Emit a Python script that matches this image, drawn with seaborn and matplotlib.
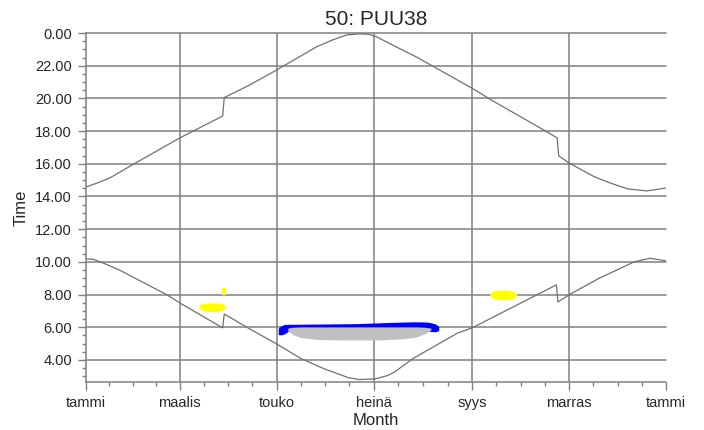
import matplotlib
matplotlib.use("Agg")
import matplotlib.pyplot as plt
import numpy as np
import pandas as pd
import seaborn as sns
from matplotlib.ticker import FixedLocator, FuncFormatter, MultipleLocator

# sunset / sunrise curves (day of year, hours)
sunset_day = [0, 7, 15, 28, 59, 86, 87, 103, 120, 133, 145, 155, 164, 172, 178, 183,
              195, 208, 241.5, 248, 254, 288, 296.5, 297.5, 304, 320, 330, 341, 353, 365]
sunset_time = [14.58, 14.82, 15.13, 15.87, 17.58, 18.92, 20.05, 20.82, 21.74, 22.47,
               23.15, 23.57, 23.88, 23.95, 23.92, 23.76, 23.16, 22.53, 20.7, 20.33,
               19.96, 18.07, 17.58, 16.48, 16.05, 15.2, 14.82, 14.46, 14.34, 14.52]

sunrise_day = [0, 4.4, 9, 14, 21, 51, 59, 86, 87, 103, 120, 135, 150, 160, 165, 172,
               182, 190, 194, 206, 234, 243, 296, 297, 305, 323, 345, 355, 365]
sunrise_time = [10.18, 10.16, 10.0, 9.8, 9.5, 7.98, 7.49, 5.96, 6.81, 5.9, 4.98, 4.1,
                3.45, 3.1, 2.92, 2.8, 2.84, 3.05, 3.25, 4.1, 5.65, 5.96, 8.59, 7.55,
                8.04, 9.0, 10.0, 10.22, 10.06]

# observation clusters (day, lower, upper)
blue_day = [121, 123, 125, 128, 131, 150, 170, 190, 205, 212, 216, 220, 222]
blue_lo = [5.55, 5.53, 5.6, 5.8, 5.9, 5.9, 5.9, 5.9, 5.9, 5.9, 5.75, 5.72, 5.8]
blue_hi = [5.95, 6.1, 6.17, 6.18, 6.18, 6.2, 6.22, 6.29, 6.33, 6.33, 6.3, 6.2, 6.05]

grey_day = [127, 130, 135, 145, 160, 185, 200, 208, 213, 217]
grey_lo = [5.8, 5.55, 5.38, 5.25, 5.22, 5.22, 5.3, 5.4, 5.6, 5.82]
grey_hi = [5.95, 6.0, 6.02, 6.02, 6.02, 6.02, 6.02, 6.02, 6.0, 5.95]

yellow1_day = [71, 72.5, 75, 79, 83, 86, 87.5]
yellow1_lo = [7.22, 7.05, 6.98, 6.96, 6.97, 7.02, 7.18]
yellow1_hi = [7.3, 7.42, 7.47, 7.49, 7.48, 7.44, 7.32]

yellow2_day = [85.6, 88.3]
yellow2_lo = [7.99, 7.99]
yellow2_hi = [8.4, 8.4]

yellow3_day = [254, 255.5, 258, 262, 266, 269.5, 271]
yellow3_lo = [7.95, 7.78, 7.7, 7.67, 7.69, 7.76, 7.92]
yellow3_hi = [8.02, 8.18, 8.25, 8.28, 8.25, 8.16, 8.02]

month_days = [0, 59, 120, 181, 243, 304, 365]
month_labels = ["tammi", "maalis", "touko", "heinä", "syys", "marras", "tammi"]
hour_ticks = [4, 6, 8, 10, 12, 14, 16, 18, 20, 22, 24]

sns.set_style("white")
plt.rcParams["font.family"] = ["Liberation Sans", "DejaVu Sans"]

grey = "#808080"
fig = plt.figure(figsize=(7.04, 4.30), dpi=100)
ax = fig.add_axes([86 / 704, 1 - 382 / 430, 580 / 704, 349 / 430])

ax.fill_between(blue_day, blue_lo, blue_hi, color="#0000ff", lw=0)
ax.fill_between(grey_day, grey_lo, grey_hi, color="#c0c0c0", lw=0)
for d, lo, hi in [(yellow1_day, yellow1_lo, yellow1_hi),
                  (yellow2_day, yellow2_lo, yellow2_hi),
                  (yellow3_day, yellow3_lo, yellow3_hi)]:
    ax.fill_between(d, lo, hi, color="#ffff00", lw=0)

sunset = pd.DataFrame({"day": sunset_day, "time": sunset_time})
sunrise = pd.DataFrame({"day": sunrise_day, "time": sunrise_time})
sns.lineplot(data=sunset, x="day", y="time", ax=ax, color="#707070", lw=0.9,
             estimator=None, sort=False)
sns.lineplot(data=sunrise, x="day", y="time", ax=ax, color="#707070", lw=0.9,
             estimator=None, sort=False)

ax.set_xlim(0, 365)
ax.set_ylim(2.65, 24)

ax.xaxis.set_major_locator(FixedLocator(month_days))
ax.set_xticklabels(month_labels)
minor_x = []
for a, b in zip(month_days[:-1], month_days[1:]):
    minor_x += list(np.linspace(a, b, 5)[1:-1])
ax.xaxis.set_minor_locator(FixedLocator(minor_x))

ax.yaxis.set_major_locator(FixedLocator(hour_ticks))
ax.yaxis.set_major_formatter(FuncFormatter(lambda v, p: f"{v % 24:.2f}"))
ax.yaxis.set_minor_locator(MultipleLocator(0.5))

ax.grid(True, which="major", color=grey, lw=1.1)
ax.get_xgridlines()[-1].set_visible(False)
ax.get_xgridlines()[0].set_visible(False)
for gl in ax.get_ygridlines():
    gl.set_clip_on(False)

for s in ["top", "right"]:
    ax.spines[s].set_visible(False)
for s in ["left", "bottom"]:
    ax.spines[s].set_color(grey)
    ax.spines[s].set_linewidth(1.1)

ax.tick_params(axis="both", which="both", direction="out", color=grey,
               labelsize=10.5, left=True, bottom=True)
ax.tick_params(axis="y", which="major", length=6, width=1, pad=4)
ax.tick_params(axis="y", which="minor", length=3, width=1)
ax.tick_params(axis="x", which="major", length=6, width=1, pad=4)
ax.tick_params(axis="x", which="minor", length=3, width=1)

ax.set_xlabel("Month", fontsize=12, labelpad=2)
ax.set_ylabel("Time", fontsize=12, labelpad=5)
ax.set_title("50: PUU38", fontsize=15, pad=6)

fig.savefig("out.png", dpi=100)
